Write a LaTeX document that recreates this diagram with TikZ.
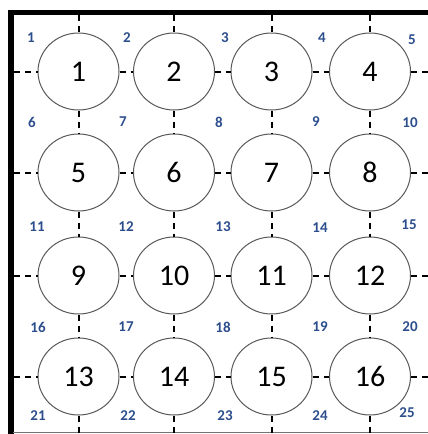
\documentclass[tikz,border=0pt]{standalone}
\usepackage{fontspec}
\setmainfont{Carlito}
\usetikzlibrary{shapes.geometric}
\definecolor{tagblue}{RGB}{44,78,140}

\begin{document}
\begin{tikzpicture}[
    x=1pt, y=-1pt,
    cell/.style={draw=black!65, line width=1pt, fill=white, ellipse,
                 minimum width=81pt, minimum height=77pt, inner sep=0pt,
                 font=\fontsize{30}{31}\selectfont},
    tag/.style={text=tagblue, inner sep=0pt,
                font=\fontsize{15}{16}\selectfont\bfseries},
    grid/.style={line width=2pt, dash pattern=on 6pt off 5pt}
  ]
  \useasboundingbox (0,0) rectangle (428,434);

  % frame
  \draw[line width=5.5pt] (11,434) -- (11,12.5) -- (428,12.5);
  \draw[black!55, line width=1pt] (13,432) -- (428,432);

  % cells
  \foreach \r/\y in {1/71.5, 2/172.5, 3/275.5, 4/376.5}
    \foreach \c/\x in {1/78.5, 2/174, 3/271.5, 4/370} {
      \pgfmathtruncatemacro{\n}{4*(\r-1)+\c}
      \node[cell] (c\r-\c) at (\x,\y) {\n};
    }

  % free ends of the dashed lines
  \foreach \i/\x in {1/78.5, 2/174, 3/271.5, 4/370} {
    \coordinate (t\i) at (\x,15);
    \coordinate (b\i) at (\x,434);
  }
  \foreach \i/\y in {1/71.5, 2/172.5, 3/275.5, 4/376.5} {
    \coordinate (l\i) at (14,\y);
    \coordinate (r\i) at (428,\y);
  }

  % dashed grid
  \foreach \i in {1,...,4} {
    \draw[grid] (l\i) -- (c\i-1.west);
    \draw[grid] (c\i-4.east) -- (r\i);
    \draw[grid] (t\i) -- (c1-\i.north);
    \draw[grid] (c4-\i.south) -- (b\i);
    \foreach \a/\b in {1/2, 2/3, 3/4} {
      \draw[grid] (c\i-\a.east) -- (c\i-\b.west);
      \draw[grid] (c\a-\i.south) -- (c\b-\i.north);
    }
  }

  % corner numbers
  \foreach \n/\x/\y in {1/31/38, 2/127/38, 3/225/38, 4/322/38, 5/412/40,
                        6/32/122, 7/123/122, 8/219/122, 9/316/122, 10/410/123,
                        11/37/227, 12/126/227, 13/223/227, 14/320/228, 15/409/225,
                        16/38/327, 17/126/327, 18/223/327, 19/320/327, 20/410/327,
                        21/38/416, 22/128/416, 23/225/416, 24/320/416, 25/407/413}
    \node[tag] (n\n) at (\x,\y) {\n};
\end{tikzpicture}
\end{document}
